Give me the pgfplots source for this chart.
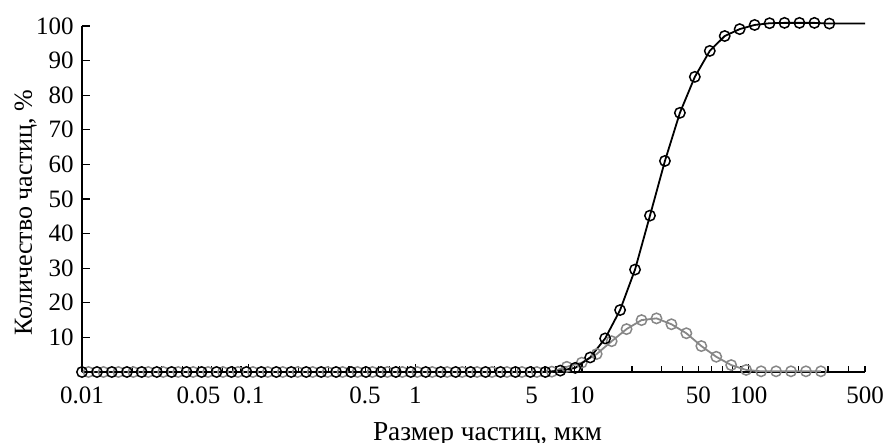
\documentclass[border=0pt]{standalone}
\usepackage{fontspec}
\setmainfont{Liberation Serif}
\usepackage{pgfplots}
\pgfplotsset{compat=1.18}

\definecolor{distgray}{RGB}{135,135,135}

% cumulative curve (black)
\pgfplotstableread{
x y
0.01 0
0.0123 0
0.0151 0
0.0186 0
0.0228 0
0.0281 0
0.0345 0
0.0424 0
0.0522 0
0.0642 0
0.0789 0
0.0970 0
0.1192 0
0.1466 0
0.1802 0
0.2216 0
0.2724 0
0.3349 0
0.4117 0
0.5061 0
0.6223 0
0.7650 0
0.9406 0
1.156 0
1.422 0
1.748 0
2.149 0
2.642 0
3.248 0
3.993 0
4.909 0
6.035 0
7.420 0.4
9.123 1.2
11.21 4.2
13.79 9.7
16.95 17.9
20.84 29.6
25.62 45.2
31.50 61.0
38.73 74.9
47.61 85.3
58.54 92.8
71.96 97.1
88.47 99.1
108.8 100.3
133.7 100.8
164.4 100.9
202.1 100.9
248.5 100.9
305.5 100.7
500 100.7
}\cumdata

% distribution (gray)
\pgfplotstableread{
x y
0.01094 0
0.01345 0
0.01654 0
0.02033 0
0.02499 0
0.03073 0
0.03778 0
0.04644 0
0.05710 0
0.07020 0
0.08630 0
0.1061 0
0.1304 0
0.1603 0
0.1971 0
0.2423 0
0.2980 0
0.3663 0
0.4503 0
0.5537 0
0.6808 0
0.8369 0
1.029 0
1.265 0
1.555 0
1.912 0
2.351 0
2.890 0
3.553 0
4.369 0
5.370 0
6.603 0.1
8.118 1.5
9.979 2.7
12.27 5.2
15.09 8.9
18.54 12.4
22.80 15.0
28.03 15.5
34.46 13.8
42.36 11.2
52.09 7.5
64.03 4.4
78.72 2.0
96.78 0.6
119.0 0.2
146.3 0.2
179.8 0.2
221.1 0.2
271.8 0.2
}\distdata

\begin{document}
\begin{tikzpicture}
\begin{axis}[
  scale only axis,
  width=391.5pt, height=173pt,
  xmode=log,
  xmin=0.01, xmax=500,
  ymin=0, ymax=100,
  clip=false,
  axis lines=left,
  axis line style={-, line width=0.7pt},
  tick align=inside,
  major tick length=4pt,
  minor tick length=3pt,
  tick style={black, line width=0.6pt},
  xtick={0.01,0.1,1,10,100},
  xticklabels={0.01,0.1,1,10,100},
  extra x ticks={0.05,0.5,5,50,500},
  extra x tick labels={0.05,0.5,5,50,500},
  extra x tick style={major tick length=3pt},
  minor xtick={0.02,0.03,0.04,0.06,0.07,0.08,0.09,
               0.2,0.3,0.4,0.6,0.7,0.8,0.9,
               2,3,4,6,7,8,9,
               20,30,40,60,70,80,90,
               200,300,400},
  ytick={10,20,30,40,50,60,70,80,90,100},
  yticklabels={10,20,30,40,50,60,70,80,90,100},
  ticklabel style={font=\fontsize{12.5}{14}\selectfont},
  xticklabel style={yshift=-3.8pt},
  yticklabel style={xshift=-0.6pt},
  every axis x label/.style={at={(axis description cs:0.5,0)}, xshift=7pt, yshift=-34pt, anchor=base,
    font=\fontsize{13.7}{16}\selectfont},
  every axis y label/.style={at={(axis description cs:0,0.46)}, xshift=-25pt, rotate=90, anchor=base,
    font=\fontsize{13}{16}\selectfont},
  xlabel={Размер частиц, мкм},
  ylabel={Количество частиц, \%},
]
\coordinate (sw) at (rel axis cs:0,0);
\addplot[distgray, line width=0.9pt, mark=o, mark size=2.6pt,
  mark options={fill=white, line width=0.75pt, solid}] table[x=x, y=y] {\distdata};
\addplot[black, line width=0.9pt, mark=o, mark size=2.6pt, mark indices={1,...,51},
  mark options={fill=white, line width=0.75pt, solid}] table[x=x, y=y] {\cumdata};
\end{axis}
\pgfresetboundingbox
\path ([shift={(-41pt,-35.5pt)}]sw) rectangle ([shift={(405pt,186pt)}]sw);
\end{tikzpicture}
\end{document}
